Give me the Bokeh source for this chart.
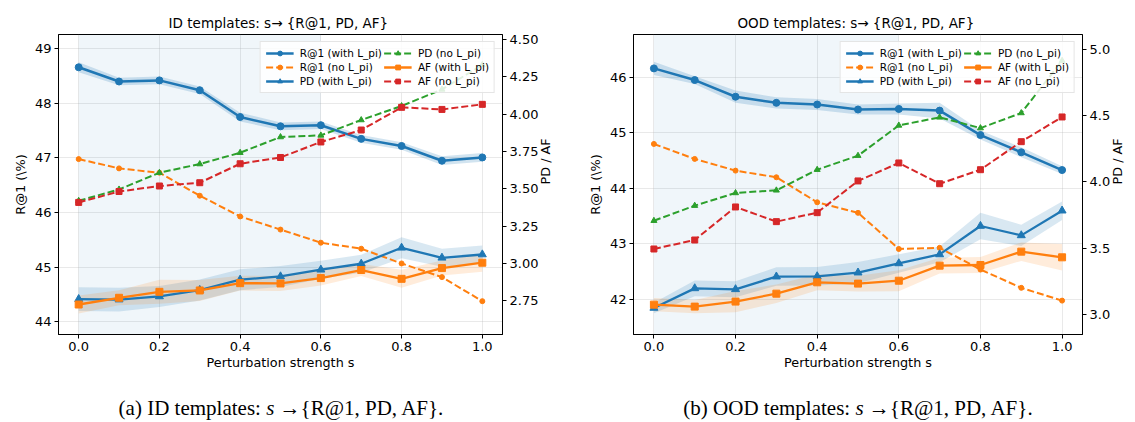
import math
from bokeh.plotting import figure
from bokeh.models import (Range1d, LinearAxis, FixedTicker, NumeralTickFormatter,
                          BoxAnnotation, Legend, LegendItem, Div)
from bokeh.layouts import row, column
from bokeh.embed import file_html
from bokeh.resources import INLINE

# ---------------- data ----------------
s_vals = [0.0, 0.1, 0.2, 0.3, 0.4, 0.5, 0.6, 0.7, 0.8, 0.9, 1.0]
shade_region = [0.0, 0.6]
x_ticks = [0.0, 0.2, 0.4, 0.6, 0.8, 1.0]

# ID templates
id_r1_with = [48.66, 48.40, 48.42, 48.24, 47.75, 47.58, 47.60, 47.35, 47.22, 46.95, 47.01]
id_r1_with_sd = [0.09, 0.07, 0.07, 0.07, 0.08, 0.07, 0.07, 0.07, 0.07, 0.08, 0.08]
id_r1_no = [46.98, 46.81, 46.73, 46.31, 45.93, 45.69, 45.45, 45.34, 45.07, 44.82, 44.38]
id_pd_with = [2.761, 2.758, 2.779, 2.822, 2.891, 2.913, 2.958, 2.998, 3.105, 3.038, 3.060]
id_pd_with_sd = [0.08, 0.08, 0.07, 0.07, 0.07, 0.07, 0.06, 0.06, 0.07, 0.06, 0.06]
id_pd_no = [3.420, 3.496, 3.608, 3.666, 3.742, 3.847, 3.858, 3.961, 4.055, 4.166, 4.330]
id_af_with = [2.725, 2.770, 2.810, 2.819, 2.868, 2.866, 2.902, 2.956, 2.897, 2.969, 3.005]
id_af_with_sd = [0.06, 0.05, 0.08, 0.07, 0.05, 0.05, 0.05, 0.04, 0.06, 0.05, 0.06]
id_af_no = [3.409, 3.482, 3.519, 3.541, 3.668, 3.710, 3.814, 3.894, 4.046, 4.032, 4.066]
id_left_ticks = [44, 45, 46, 47, 48, 49]
id_right_ticks = [2.75, 3.00, 3.25, 3.50, 3.75, 4.00, 4.25, 4.50]

# OOD templates
ood_r1_with = [46.16, 45.95, 45.65, 45.54, 45.51, 45.42, 45.43, 45.40, 44.96, 44.65, 44.33]
ood_r1_with_sd = [0.12, 0.07, 0.11, 0.10, 0.10, 0.09, 0.10, 0.14, 0.08, 0.09, 0.07]
ood_r1_no = [44.80, 44.53, 44.32, 44.20, 43.75, 43.56, 42.91, 42.93, 42.54, 42.21, 41.98]
ood_pd_with = [3.047, 3.195, 3.188, 3.284, 3.286, 3.314, 3.384, 3.452, 3.667, 3.596, 3.783]
ood_pd_with_sd = [0.04, 0.06, 0.06, 0.07, 0.07, 0.08, 0.07, 0.06, 0.10, 0.08, 0.07]
ood_pd_no = [3.707, 3.821, 3.917, 3.937, 4.093, 4.199, 4.428, 4.489, 4.408, 4.522, 4.918]
ood_af_with = [3.072, 3.057, 3.095, 3.155, 3.241, 3.231, 3.253, 3.367, 3.372, 3.473, 3.430]
ood_af_with_sd = [0.05, 0.05, 0.08, 0.07, 0.06, 0.06, 0.08, 0.06, 0.06, 0.07, 0.10]
ood_af_no = [3.493, 3.561, 3.811, 3.700, 3.768, 4.008, 4.144, 3.987, 4.093, 4.305, 4.492]
ood_left_ticks = [42, 43, 44, 45, 46]
ood_right_ticks = [3.0, 3.5, 4.0, 4.5, 5.0]

legend_labels = ["R@1 (with L_pi)", "R@1 (no L_pi)", "PD (with L_pi)",
                 "PD (no L_pi)", "AF (with L_pi)", "AF (no L_pi)"]

BLUE, ORANGE, GREEN, RED = "#1f77b4", "#ff7f0e", "#2ca02c", "#d62728"
FONT = "DejaVu Sans"


def band(vals, sd, sign):
    return [v + sign * e for v, e in zip(vals, sd)]


def make_panel(title, r1w, r1w_sd, r1n, pdw, pdw_sd, pdn, afw, afw_sd, afn,
               yl, yr, lticks, rticks, rfmt, width, mbl, mbr):
    p = figure(width=width, height=375, x_range=Range1d(-0.05, 1.05),
               y_range=Range1d(*yl), output_backend="svg", toolbar_location=None,
               min_border_left=mbl, min_border_right=mbr, min_border_top=34,
               min_border_bottom=41)
    p.extra_y_ranges = {"right": Range1d(*yr)}
    p.background_fill_color = "white"
    p.border_fill_color = "white"
    p.outline_line_color = "black"
    p.outline_line_width = 1

    p.title.text = title
    p.title.align = "center"
    p.title.text_font = FONT
    p.title.text_font_size = "13.5px"
    p.title.text_font_style = "normal"
    p.title.text_color = "black"
    p.title.standoff = 8

    # axes
    xa = p.xaxis[0]
    ya = p.yaxis[0]
    xa.ticker = FixedTicker(ticks=x_ticks)
    xa.formatter = NumeralTickFormatter(format="0.0")
    xa.axis_label = "Perturbation strength s"
    ya.ticker = FixedTicker(ticks=lticks)
    ya.axis_label = "R@1 (\\%)"
    ra = LinearAxis(y_range_name="right", axis_label="PD / AF",
                    ticker=FixedTicker(ticks=rticks),
                    formatter=NumeralTickFormatter(format=rfmt))
    p.add_layout(ra, "right")
    if "axis_label_orientation" in ra.properties():
        ra.axis_label_orientation = math.pi / 2
    for ax in (xa, ya, ra):
        ax.major_label_text_font = FONT
        ax.major_label_text_font_size = "13px"
        ax.major_label_text_color = "black"
        ax.axis_label_text_font = FONT
        ax.axis_label_text_font_size = "12.8px"
        ax.axis_label_text_font_style = "normal"
        ax.axis_label_text_color = "black"
        ax.minor_tick_line_color = None
        ax.major_tick_in = 0
        ax.major_tick_out = 4
        ax.major_label_standoff = 3
        ax.axis_label_standoff = 4
        ax.axis_line_color = "black"
        ax.major_tick_line_color = "black"
    xa.axis_label_standoff = 1

    for g in (p.xgrid[0], p.ygrid[0]):
        g.grid_line_color = "#b0b0b0"
        g.grid_line_alpha = 0.35
        g.grid_line_width = 0.8
    p.xgrid[0].ticker = FixedTicker(ticks=x_ticks)
    p.ygrid[0].ticker = FixedTicker(ticks=lticks)

    shade = BoxAnnotation(left=shade_region[0], right=shade_region[1],
                          fill_color=BLUE, fill_alpha=0.065, line_alpha=0,
                          level="underlay")
    p.add_layout(shade)

    # bands
    p.varea(x=s_vals, y1=band(r1w, r1w_sd, -1), y2=band(r1w, r1w_sd, 1),
            fill_color=BLUE, fill_alpha=0.2)
    p.varea(x=s_vals, y1=band(pdw, pdw_sd, -1), y2=band(pdw, pdw_sd, 1),
            fill_color=BLUE, fill_alpha=0.17, y_range_name="right")
    p.varea(x=s_vals, y1=band(afw, afw_sd, -1), y2=band(afw, afw_sd, 1),
            fill_color=ORANGE, fill_alpha=0.15, y_range_name="right")

    # R@1 with
    l1 = p.line(s_vals, r1w, line_color=BLUE, line_width=2.5)
    m1 = p.scatter(s_vals, r1w, marker="circle", size=7, fill_color=BLUE, line_color=BLUE)
    # R@1 no
    l2 = p.line(s_vals, r1n, line_color=ORANGE, line_width=2, line_dash="7 3")
    m2 = p.scatter(s_vals, r1n, marker="circle", size=5, fill_color=ORANGE, line_color=ORANGE)
    # PD with
    l3 = p.line(s_vals, pdw, line_color=BLUE, line_width=2.3, y_range_name="right")
    m3 = p.scatter(s_vals, pdw, marker="triangle", size=8, fill_color=BLUE,
                   line_color=BLUE, y_range_name="right")
    # PD no
    l4 = p.line(s_vals, pdn, line_color=GREEN, line_width=2, line_dash="7 3",
                y_range_name="right")
    m4 = p.scatter(s_vals, pdn, marker="triangle", size=6, fill_color=GREEN,
                   line_color=GREEN, y_range_name="right")
    # AF with
    l5 = p.line(s_vals, afw, line_color=ORANGE, line_width=2.3, y_range_name="right")
    m5 = p.scatter(s_vals, afw, marker="square", size=7, fill_color=ORANGE,
                   line_color=ORANGE, y_range_name="right")
    # AF no
    l6 = p.line(s_vals, afn, line_color=RED, line_width=2, line_dash="7 3",
                y_range_name="right")
    m6 = p.scatter(s_vals, afn, marker="square", size=6, fill_color=RED,
                   line_color=RED, y_range_name="right")

    rends = [[l1, m1], [l2, m2], [l3, m3], [l4, m4], [l5, m5], [l6, m6]]
    items = [LegendItem(label=legend_labels[i], renderers=rends[i]) for i in range(6)]
    leg = Legend(items=items, ncols=2, location="top_right")
    leg.label_text_font = FONT
    leg.label_text_font_size = "10.5px"
    leg.label_text_color = "black"
    leg.glyph_width = 28
    leg.glyph_height = 12
    leg.label_height = 12
    leg.label_standoff = 6
    leg.spacing = 2
    leg.padding = 5
    leg.margin = 7
    leg.border_line_color = "#cccccc"
    leg.border_line_width = 1
    leg.background_fill_alpha = 0.85
    p.add_layout(leg)
    return p


def make_caption(html, width):
    return Div(text=html, width=width, height=47,
               styles={"font-family": "Liberation Serif", "font-size": "21px",
                       "text-align": "center", "color": "black",
                       "padding-top": "16px", "line-height": "1.2"})


p1 = make_panel("ID templates: s\u2192  {R@1, PD, AF}",
                id_r1_with, id_r1_with_sd, id_r1_no, id_pd_with, id_pd_with_sd, id_pd_no,
                id_af_with, id_af_with_sd, id_af_no,
                (43.77, 49.26), (2.524, 4.534), id_left_ticks, id_right_ticks, "0.00",
                568, 58, 66)
p2 = make_panel("OOD templates: s\u2192  {R@1, PD, AF}",
                ood_r1_with, ood_r1_with_sd, ood_r1_no, ood_pd_with, ood_pd_with_sd, ood_pd_no,
                ood_af_with, ood_af_with_sd, ood_af_no,
                (41.37, 46.77), (2.846, 5.116), ood_left_ticks, ood_right_ticks, "0.0",
                567, 65, 45)

c1 = make_caption("(a) ID templates: <i>s</i> \u2192{R@1, PD, AF}.", 552)
c2 = make_caption("(b) OOD templates: <i>s</i> \u2192{R@1, PD, AF}.", 570)

layout = row(column(p1, c1, spacing=0), column(p2, c2, spacing=0), spacing=0)
open("out.html", "w").write(file_html(layout, INLINE))
